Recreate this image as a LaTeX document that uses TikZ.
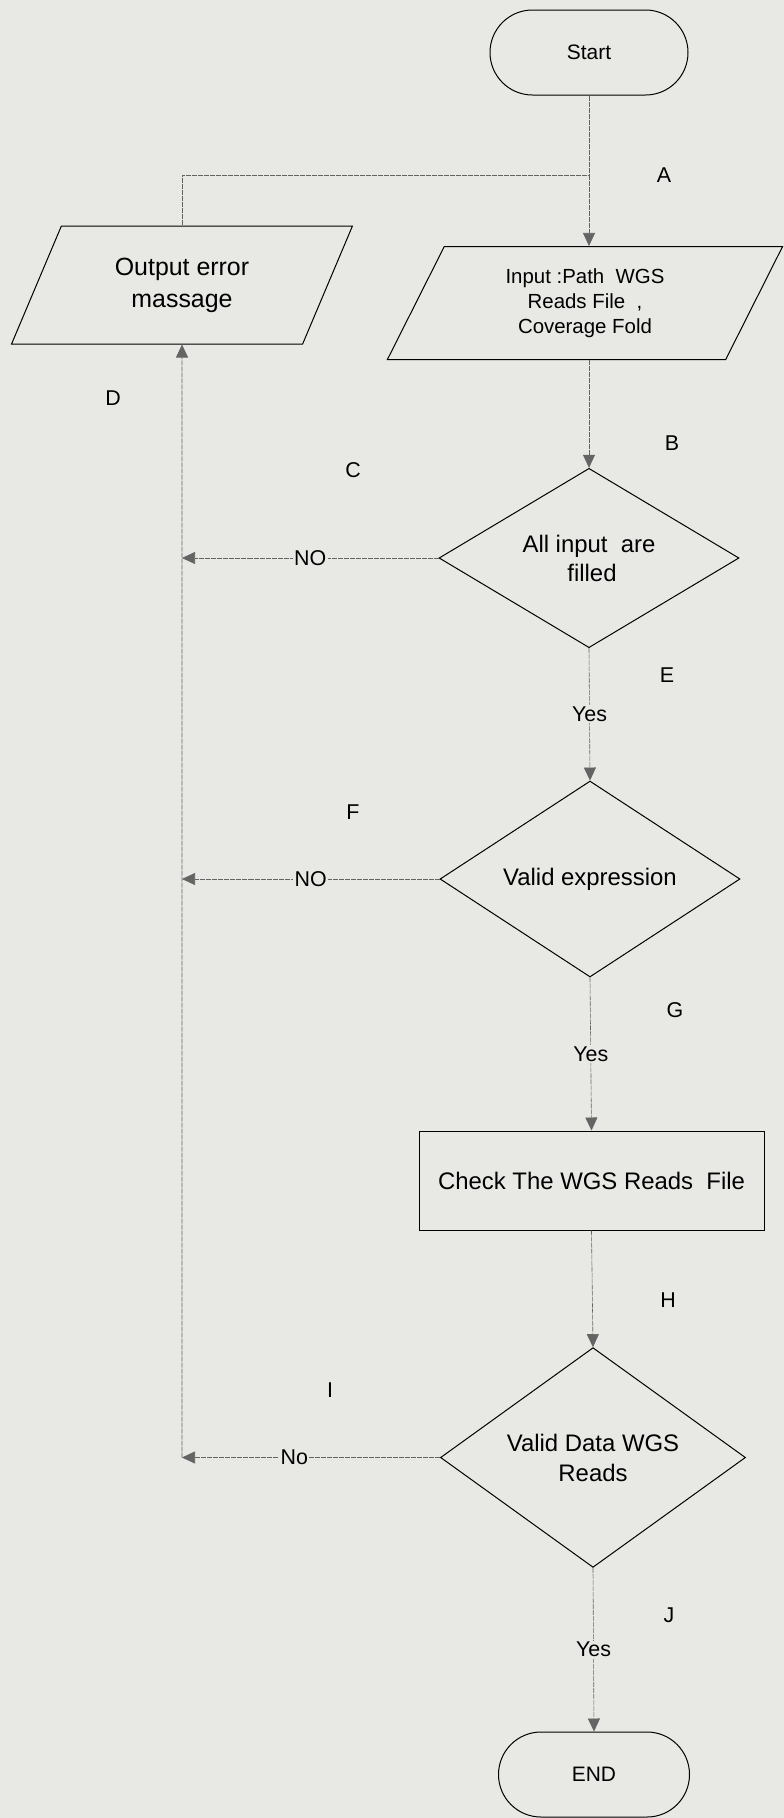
\documentclass[tikz,border=0pt]{standalone}
\usepackage{fontspec}
\setmainfont{Liberation Sans}
\usetikzlibrary{shapes.geometric,shapes.misc,arrows.meta}
\definecolor{paper}{RGB}{232,232,229}
\definecolor{linegray}{RGB}{100,100,100}
\begin{document}
\begin{tikzpicture}[x=1bp,y=-1bp,
  shapebox/.style={draw=black, line width=1bp, fill=paper, inner sep=0pt, align=center},
  term/.style={shapebox, rounded rectangle, minimum width=198bp, minimum height=85bp, font=\fontsize{21}{25}\selectfont},
  io/.style={shapebox, trapezium, trapezium stretches=true, trapezium left angle=65, trapezium right angle=115},
  decision/.style={shapebox, diamond, font=\fontsize{24}{29}\selectfont},
  process/.style={shapebox, rectangle, font=\fontsize{24}{28}\selectfont},
  plainline/.style={draw=linegray, line width=0.6bp, dash pattern=on 5bp off 1bp},
  conn/.style={plainline, -{Triangle[width=12bp,length=13bp,fill=linegray]}},
  lbl/.style={font=\fontsize{21.5}{25}\selectfont, inner sep=1pt},
  edgelbl/.style={lbl, fill=paper, inner sep=1.5bp}
]
\useasboundingbox[fill=paper] (0,0) rectangle (784,1818);

% shapes
\node[term] (start) at (589,52.5) {Start};
\node[io, minimum width=396bp, minimum height=113bp, font=\fontsize{20.5}{25}\selectfont] (in) at (585,303) {Input :Path\ \ WGS\\Reads File\ \ ,\\Coverage Fold};
\node[io, trapezium left angle=63, trapezium right angle=117, minimum width=341bp, minimum height=118bp, font=\fontsize{25}{32}\selectfont] (out) at (182,285) {Output error\\massage};
\node[decision, minimum width=300bp, minimum height=174bp] (d1) at (589,558) {All input\ \ are\\\hspace*{6bp}filled};
\node[decision, minimum width=300bp, minimum height=178bp] (d2) at (590,879) {Valid expression};
\node[process, minimum width=345bp, minimum height=99bp] (chk) at (591.5,1180.5) {Check The WGS Reads\ \ File};
\node[decision, minimum width=305bp, minimum height=179bp, font=\fontsize{24}{30}\selectfont] (d3) at (593,1457.5) {Valid Data WGS\\Reads};
\node[term, minimum width=191bp, minimum height=85bp] (end) at (594,1774.5) {END};

% junction points
\coordinate (m) at (589,175);
\coordinate (j3) at (182,1457.5);

% connectors
\draw[plainline] (start.south) -- (m);
\draw[conn] (m) -- (m |- in.north);
\draw[plainline] (out.north) |- (m);
\draw[conn] (d1.north |- in.south) -- (d1.north);
\draw[conn] (d1.west) -- node[edgelbl]{NO} (d1.west -| j3);
\draw[conn] (d1.south) -- node[edgelbl]{Yes} (d2.north);
\draw[conn] (d2.west) -- node[edgelbl]{NO} (d2.west -| j3);
\draw[conn] (d2.south) -- node[edgelbl, pos=0.50]{Yes} (chk.north);
\draw[conn] (chk.south) -- (d3.north);
\draw[conn] (d3.west) -- node[edgelbl, pos=0.565]{No} (j3);
\draw[conn] (j3) -- (out.south);
\draw[conn] (d3.south) -- node[edgelbl]{Yes} (end.north);

% letter labels
\node[lbl] (lA) at (664,175) {A};
\node[lbl] (lB) at (672,443) {B};
\node[lbl] (lC) at (353,470) {C};
\node[lbl] (lD) at (113,398) {D};
\node[lbl] (lE) at (667,675) {E};
\node[lbl] (lF) at (353,812) {F};
\node[lbl] (lG) at (675,1010) {G};
\node[lbl] (lH) at (668,1300) {H};
\node[lbl] (lI) at (330,1390) {I};
\node[lbl] (lJ) at (669,1615) {J};
\end{tikzpicture}
\end{document}
